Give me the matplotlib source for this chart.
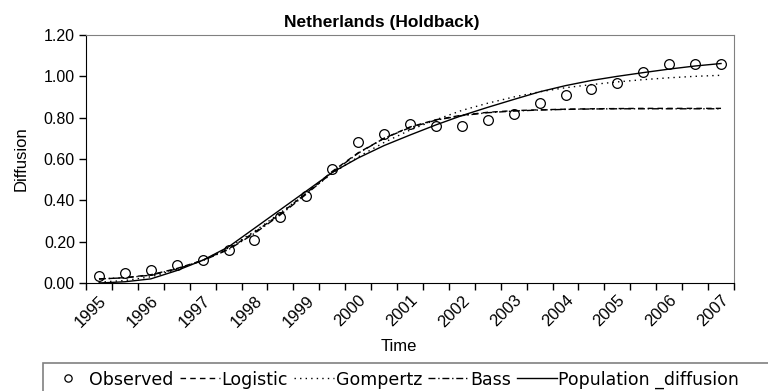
import matplotlib
matplotlib.use("Agg")
import matplotlib.pyplot as plt
from matplotlib.patches import Rectangle
import numpy as np

plt.rcParams['font.family'] = ['Liberation Sans', 'DejaVu Sans']

# Half-year periods 1995 .. 2007 (25 categories), labels every second one
year_labels = ['1995', '1996', '1997', '1998', '1999', '2000', '2001',
               '2002', '2003', '2004', '2005', '2006', '2007']

observed = [0.035, 0.05, 0.065, 0.085, 0.11, 0.16, 0.21, 0.32, 0.42, 0.55,
            0.68, 0.72, 0.77, 0.76, 0.76, 0.79, 0.82, 0.87, 0.91, 0.94,
            0.97, 1.02, 1.06, 1.06, 1.06]
logistic = [0.019, 0.026, 0.04, 0.07, 0.11, 0.165, 0.245, 0.335, 0.435, 0.54,
            0.63, 0.70, 0.755, 0.79, 0.812, 0.826, 0.834, 0.838, 0.841, 0.843,
            0.844, 0.845, 0.845, 0.845, 0.845]
gompertz = [0.004, 0.012, 0.03, 0.065, 0.11, 0.17, 0.25, 0.34, 0.435, 0.53,
            0.61, 0.68, 0.74, 0.79, 0.835, 0.87, 0.90, 0.925, 0.945, 0.96,
            0.973, 0.984, 0.993, 1.0, 1.005]
bass = [0.02, 0.025, 0.038, 0.068, 0.108, 0.162, 0.24, 0.33, 0.43, 0.535,
        0.628, 0.70, 0.752, 0.788, 0.81, 0.824, 0.832, 0.837, 0.84, 0.842,
        0.843, 0.843, 0.843, 0.843, 0.843]
population_diffusion = [0.0, 0.006, 0.02, 0.06, 0.11, 0.175, 0.265, 0.355, 0.445,
                        0.535, 0.605, 0.665, 0.716, 0.765, 0.81, 0.85, 0.888,
                        0.925, 0.955, 0.98, 1.0, 1.018, 1.035, 1.05, 1.062]

n = len(observed)
x = np.arange(n) + 0.5

fig = plt.figure(figsize=(7.68, 3.91), dpi=100)
ax = fig.add_axes([0.112, 0.2762, 0.8437, 0.6343])

ax.plot(x, logistic, color='black', lw=1.0, ls=(0, (4, 3)), label='Logistic')
ax.plot(x, gompertz, color='black', lw=1.0, ls=(0, (1, 3)), label='Gompertz')
ax.plot(x, bass, color='black', lw=1.0, ls=(0, (5, 2, 1, 2)), label='Bass')
ax.plot(x, population_diffusion, color='black', lw=1.0, ls='-',
        label='Population _diffusion')
ax.plot(x, observed, ls='none', marker='o', ms=7, mfc='none', mec='black',
        mew=0.9, label='Observed')

ax.set_xlim(0, n)
ax.set_ylim(0, 1.2)
ax.set_yticks(np.arange(0, 1.21, 0.2))
ax.set_yticklabels([f'{v:.2f}' for v in np.arange(0, 1.21, 0.2)], fontsize=11.5)
ax.set_xticks(np.arange(0, n + 1), minor=False)
ax.set_xticklabels([])
ax.set_xticks(x[::2], minor=True)
ax.set_xticklabels(year_labels, minor=True, fontsize=12)
for lbl in ax.get_xticklabels(minor=True):
    lbl.set_rotation(45)
    lbl.set_ha('right')
    lbl.set_va('top')
    lbl.set_rotation_mode('anchor')
ax.tick_params(axis='x', which='major', direction='out', length=5, width=1)
ax.tick_params(axis='x', which='minor', length=0, pad=7)
ax.tick_params(axis='y', direction='out', length=5, width=1, pad=3)

for s in ['top', 'right']:
    ax.spines[s].set_color('#808080')
for s in ['left', 'bottom']:
    ax.spines[s].set_color('black')

fig.text(0.497, 1 - 23 / 391, 'Netherlands (Holdback)', fontsize=12.5,
         fontweight='bold', ha='center', va='center')
ax.set_ylabel('Diffusion', fontsize=12, labelpad=11)
ax.set_xlabel('Time', fontsize=12)
ax.xaxis.set_label_coords(0.482, -0.225)

handles, labels = ax.get_legend_handles_labels()
order = [4, 0, 1, 2, 3]
fig.legend([handles[i] for i in order], [labels[i] for i in order],
           loc='center left', bbox_to_anchor=(0.062, 0.029), ncol=5,
           frameon=False, handlelength=2.3, handletextpad=0.1,
           columnspacing=0.35, borderpad=0, borderaxespad=0, markerscale=0.75,
           prop={'family': 'DejaVu Sans', 'size': 12.5})

fig.patches.append(Rectangle((0.056, -0.2), 1.0, 0.2716, transform=fig.transFigure,
                             fill=False, edgecolor='#808080', lw=1.2))

fig.savefig('out.png', dpi=100)
